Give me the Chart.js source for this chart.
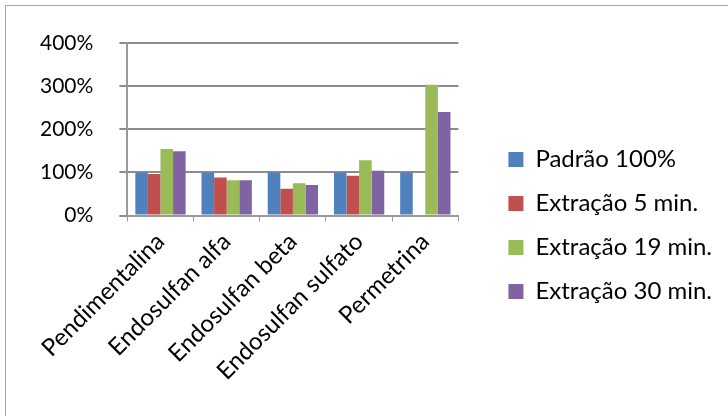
<!DOCTYPE html>
<html>
<head>
<meta charset="utf-8">
<script src="https://cdn.jsdelivr.net/npm/chart.js@4/dist/chart.umd.min.js"></script>
<style>
  body { margin: 0; background: #fff; font-family: Lato; }
  .frame { position: absolute; left: 5px; top: 5px; width: 760px; height: 440px; border: 1px solid #a6a6a6; }
  .chart { position: absolute; left: 0; top: 0; width: 728px; height: 416px; }
</style>
</head>
<body>
<div class="frame"></div>
<div class="chart"><canvas id="residueChart" width="728" height="416"></canvas></div>
<script>
// compostos analisados
const categories = ['Pendimentalina', 'Endosulfan alfa', 'Endosulfan beta', 'Endosulfan sulfato', 'Permetrina'];
const seriesNames = ['Padrão 100%', 'Extração 5 min.', 'Extração 19 min.', 'Extração 30 min.'];
const padrao = [100, 100, 100, 100, 100];
const extracao5 = [96, 88, 62, 92, 0];
const extracao19 = [154, 82, 75, 128, 303];
const extracao30 = [149, 82, 71, 104, 240];
const yTicks = [0, 100, 200, 300, 400];
const colors = ['#4f81bd', '#c0504d', '#9bbb59', '#8064a2'];

const yFont = { family: 'Lato', size: 21 };
const labelFont = { family: 'Lato', size: 24 };

const drawChart = () => {
  const canvas = document.getElementById('residueChart');
  new Chart(canvas, {
    type: 'bar',
    data: {
      labels: categories,
      datasets: [padrao, extracao5, extracao19, extracao30].map((d, i) => ({
        label: seriesNames[i],
        data: d,
        yAxisID: 'y',
        backgroundColor: colors[i],
        categoryPercentage: 0.76,
        barPercentage: 1,
      })),
    },
    options: {
      responsive: false,
      animation: false,
      layout: { padding: { left: 14, right: 6, top: 43, bottom: 28 } },
      scales: {
        x: {
          grid: { drawOnChartArea: false, drawTicks: true, tickLength: 6, color: '#999', offset: true },
          border: { color: '#999', width: 2 },
          ticks: { font: labelFont, color: '#000', minRotation: 45, maxRotation: 45, padding: 6 },
        },
        y: {
          min: 0,
          max: 400,
          afterBuildTicks: (axis) => { axis.ticks = yTicks.map((v) => ({ value: v })); },
          grid: { color: '#8c8c8c', lineWidth: 2, tickLength: 8 },
          border: { color: '#999', width: 2 },
          ticks: { font: yFont, color: '#000', padding: 26, callback: (v) => v + '%' },
        },
        // empty axis, only keeps space between plot and legend
        gap: {
          axis: 'y',
          position: 'right',
          grid: { display: false },
          border: { display: false },
          ticks: { display: false },
          afterFit: (scale) => { scale.width = 30; },
        },
      },
      plugins: {
        legend: {
          position: 'right',
          align: 'center',
          maxWidth: 240,
          // blank title just pushes the entries a bit lower
          title: { display: true, text: '', font: { size: 10 }, padding: { top: 4, bottom: 4 } },
          labels: { font: labelFont, color: '#000', boxWidth: 15, boxHeight: 15, padding: 20 },
        },
        tooltip: { enabled: false },
      },
    },
  });
};

Promise.all([document.fonts.load('21px Lato'), document.fonts.load('24px Lato')])
  .then(drawChart, drawChart);
</script>
</body>
</html>
